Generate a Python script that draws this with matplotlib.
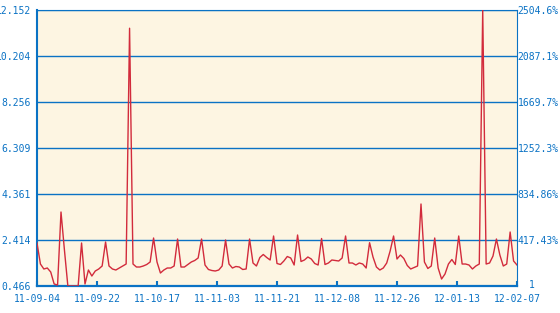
import matplotlib
matplotlib.use('Agg')
import matplotlib.pyplot as plt
import numpy as np

# daily values (index based x axis)
values = [
    2.287, 1.397, 1.186, 1.228, 1.059, 0.551, 0.508, 3.599, 1.990, 0.466,
    0.466, 0.466, 0.466, 2.287, 0.551, 1.143, 0.889, 1.101, 1.186, 1.313,
    2.329, 1.313, 1.186, 1.143, 1.228, 1.313, 1.397, 11.38, 1.397, 1.270,
    1.270, 1.313, 1.376, 1.482, 2.498, 1.482, 1.016, 1.143, 1.228, 1.228,
    1.313, 2.456, 1.270, 1.270, 1.376, 1.482, 1.546, 1.652, 2.456, 1.355,
    1.165, 1.122, 1.101, 1.143, 1.313, 2.414, 1.397, 1.228, 1.292, 1.270,
    1.165, 1.186, 2.456, 1.440, 1.313, 1.673, 1.800, 1.673, 1.567, 2.583,
    1.419, 1.376, 1.525, 1.715, 1.652, 1.355, 2.625, 1.503, 1.567, 1.694,
    1.609, 1.419, 1.355, 2.477, 1.376, 1.440, 1.567, 1.546, 1.525, 1.652,
    2.583, 1.440, 1.440, 1.355, 1.440, 1.397, 1.228, 2.299, 1.694, 1.270,
    1.143, 1.228, 1.440, 1.948, 2.583, 1.609, 1.779, 1.630, 1.334, 1.186,
    1.249, 1.313, 3.938, 1.482, 1.207, 1.313, 2.498, 1.228, 0.762, 0.974,
    1.397, 1.588, 1.376, 2.583, 1.397, 1.397, 1.355, 1.186, 1.313, 1.397,
    12.152, 1.397, 1.440, 1.736, 2.456, 1.779, 1.313, 1.397, 2.752, 1.525,
    1.355,
]

date_labels = ['11-09-04', '11-09-22', '11-10-17', '11-11-03', '11-11-21',
               '11-12-08', '11-12-26', '12-01-13', '12-02-07']

y_ticks = [0.466, 2.414, 4.361, 6.309, 8.256, 10.204, 12.152]
y_labels = ['0.466', '2.414', '4.361', '6.309', '8.256', '10.204', '12.152']
pct_labels = ['417.43%', '834.86%', '1252.3%', '1669.7%', '2087.1%', '2504.6%']
base_label = '1'

blue = '#0a72c4'
red = '#d22b3c'
bg = '#fdf5e2'

plt.rcParams['font.family'] = 'DejaVu Sans Mono'

x = np.arange(len(values))
n = len(values) - 1

fig = plt.figure(figsize=(5.6, 3.13), dpi=100)
ax = fig.add_axes([37/560, 27/313, 480/560, 276/313])
ax.set_facecolor(bg)

ax.plot(x, values, color=red, lw=1.0, zorder=3)

ax.set_xlim(0, n)
ax.set_ylim(y_ticks[0], y_ticks[-1])

ax.set_yticks(y_ticks)
ax.set_yticklabels(y_labels)
ax.grid(axis='y', color=blue, lw=1.0)

ax.set_xticks(np.linspace(0, n, len(date_labels)))
ax.set_xticklabels(date_labels)
ax.tick_params(axis='x', direction='in', length=3.5, width=1.5, color=blue,
               labelcolor=blue, labelsize=7, pad=6)
ax.tick_params(axis='y', length=0, labelcolor=blue, labelsize=7, pad=4.3)

ax.spines['left'].set_color(blue)
ax.spines['left'].set_linewidth(1.5)
ax.spines['bottom'].set_color(blue)
ax.spines['bottom'].set_linewidth(1.6)
ax.spines['right'].set_color(blue)
ax.spines['right'].set_linewidth(0.8)
ax.spines['top'].set_color(blue)
ax.spines['top'].set_linewidth(0.8)

ax2 = ax.twinx()
ax2.set_ylim(y_ticks[0], y_ticks[-1])
ax2.set_yticks(y_ticks[1:])
ax2.set_yticklabels(pct_labels)
ax2.tick_params(axis='y', length=0, labelcolor=blue, labelsize=7, pad=0.3)
for s in ax2.spines.values():
    s.set_visible(False)

fig.text(532/560, 1 - 285/313, base_label, color=blue, fontsize=7,
         ha='center', va='center')

fig.savefig('out.png', dpi=100)
